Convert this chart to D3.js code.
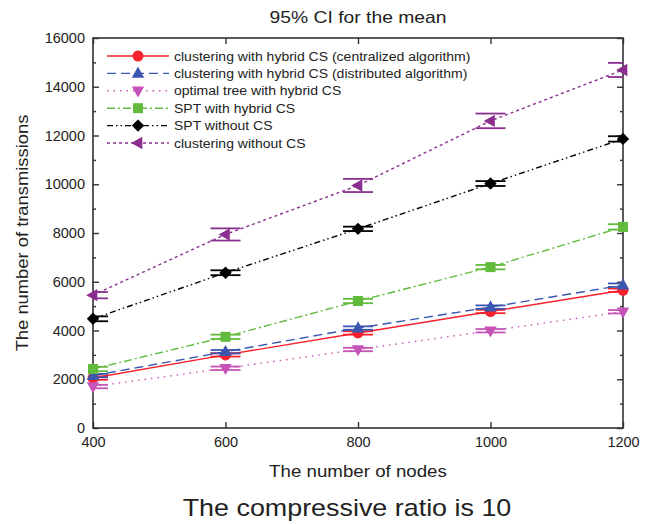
<!DOCTYPE html>
<html><head><meta charset="utf-8">
<script src="https://cdn.jsdelivr.net/npm/d3@7"></script>
<style>body{margin:0;background:#fff;} svg{display:block;font-family:"Liberation Sans",Arial,sans-serif;}</style>
</head><body>
<svg id="c" width="656" height="524"></svg>
<script>
const nodes = [400, 600, 800, 1000, 1200];
const seriesNames = [
  "clustering with hybrid CS (centralized algorithm)",
  "clustering with hybrid CS (distributed algorithm)",
  "optimal tree with hybrid CS",
  "SPT with hybrid CS",
  "SPT without CS",
  "clustering without CS"
];
const centralized = [2050, 3000, 3900, 4780, 5650];
const distributed = [2150, 3130, 4100, 4960, 5860];
const optimalTree = [1700, 2450, 3220, 3990, 4770];
const sptHybrid = [2420, 3740, 5210, 6600, 8250];
const sptNoCS = [4480, 6370, 8170, 10030, 11860];
const clusterNoCS = [5450, 7940, 9950, 12600, 14690];
const ciCentralized = [70, 70, 70, 70, 70];
const ciDistributed = [70, 70, 70, 70, 70];
const ciOptimal = [70, 70, 70, 70, 70];
const ciSptHybrid = [90, 90, 90, 90, 110];
const ciSptNoCS = [100, 100, 90, 100, 110];
const ciClusterNoCS = [130, 250, 270, 300, 290];
const yTicks = [0, 2000, 4000, 6000, 8000, 10000, 12000, 14000, 16000];
const xTicks = [400, 600, 800, 1000, 1200];

const colors = ["#f5222d", "#3a56b0", "#c653b8", "#62bb3c", "#000000", "#8a2f8f"];
const dashes = ["none", "9,5", "1.5,5", "8,3,2,3", "6,3,1.5,3,1.5,3", "3,3"];
const shapes = ["circle", "up", "down", "square", "diamond", "left"];
const values = [centralized, distributed, optimalTree, sptHybrid, sptNoCS, clusterNoCS];
const cis = [ciCentralized, ciDistributed, ciOptimal, ciSptHybrid, ciSptNoCS, ciClusterNoCS];

const svg = d3.select("#c");
const L = 93, R = 623, T = 38, B = 428;
const x = d3.scaleLinear().domain([400, 1200]).range([L, R]);
const y = d3.scaleLinear().domain([0, 16000]).range([B, T]);
const axisColor = "#333";
const txtColor = "#222";

function stretch(sel, f) {
  sel.each(function () {
    const w = this.getComputedTextLength();
    d3.select(this).attr("textLength", w * f).attr("lengthAdjust", "spacingAndGlyphs");
  });
  return sel;
}

// Title
stretch(svg.append("text").attr("x", 358).attr("y", 23).attr("text-anchor", "middle")
  .attr("font-size", 16.5).attr("fill", txtColor).text("95% CI for the mean"), 1.17);

// Axes with inward ticks
const g = svg.append("g");
const leftAx = d3.axisLeft(y).tickValues(yTicks).tickSize(-6).tickPadding(8).tickFormat(d3.format("d"));
const gl = g.append("g").attr("transform", `translate(${L},0)`).call(leftAx);
gl.selectAll("text").attr("font-size", 14.5).attr("fill", txtColor).attr("font-family", "Liberation Sans, Arial, sans-serif");
const rightAx = d3.axisRight(y).tickValues(yTicks).tickSize(-6).tickFormat("");
g.append("g").attr("transform", `translate(${R},0)`).call(rightAx);
const minorY = d3.range(1000, 16000, 2000);
g.append("g").attr("transform", `translate(${L},0)`).call(d3.axisLeft(y).tickValues(minorY).tickSize(-3).tickFormat(""));
g.append("g").attr("transform", `translate(${R},0)`).call(d3.axisRight(y).tickValues(minorY).tickSize(-3).tickFormat(""));
const bottomAx = d3.axisBottom(x).tickValues(xTicks).tickSize(-6).tickPadding(9).tickFormat(d3.format("d"));
const gb = g.append("g").attr("transform", `translate(0,${B})`).call(bottomAx);
gb.selectAll("text").attr("font-size", 14.5).attr("fill", txtColor).attr("font-family", "Liberation Sans, Arial, sans-serif");
g.append("g").attr("transform", `translate(0,${T})`).call(d3.axisTop(x).tickValues(xTicks).tickSize(-6).tickFormat(""));
g.selectAll(".domain").remove();
g.selectAll(".tick line").attr("stroke", axisColor).attr("stroke-width", 1.4);
svg.append("rect").attr("x", L).attr("y", T).attr("width", R - L).attr("height", B - T)
  .attr("fill", "none").attr("stroke", axisColor).attr("stroke-width", 1.6);

// Axis titles
stretch(svg.append("text").attr("x", 358).attr("y", 477).attr("text-anchor", "middle")
  .attr("font-size", 17).attr("fill", txtColor).text("The number of nodes"), 1.1);
stretch(svg.append("text").attr("transform", "translate(28,233) rotate(-90)").attr("text-anchor", "middle")
  .attr("font-size", 17).attr("fill", txtColor).text("The number of transmissions"), 1.08);
stretch(svg.append("text").attr("x", 347).attr("y", 516).attr("text-anchor", "middle")
  .attr("font-size", 24).attr("fill", txtColor).text("The compressive ratio is 10"), 1.12);

function marker(sel, shape, cx, cy, color, s) {
  let p;
  if (shape === "circle") return sel.append("circle").attr("cx", cx).attr("cy", cy).attr("r", s * 0.55).attr("fill", color);
  if (shape === "square") return sel.append("rect").attr("x", cx - s * 0.5).attr("y", cy - s * 0.5).attr("width", s).attr("height", s).attr("fill", color);
  const h = s * 0.62;
  if (shape === "up") p = [[cx, cy - h * 1.1], [cx + h, cy + h * 0.7], [cx - h, cy + h * 0.7]];
  if (shape === "down") p = [[cx, cy + h * 1.1], [cx + h, cy - h * 0.7], [cx - h, cy - h * 0.7]];
  if (shape === "left") p = [[cx - h * 1.1, cy], [cx + h * 0.7, cy - h], [cx + h * 0.7, cy + h]];
  if (shape === "diamond") p = [[cx, cy - h], [cx + h, cy], [cx, cy + h], [cx - h, cy]];
  return sel.append("polygon").attr("points", p.map(d => d.join(",")).join(" ")).attr("fill", color);
}

const plot = svg.append("g");
const line = d3.line().x((d, i) => x(nodes[i])).y(d => y(d));
values.forEach((vals, si) => {
  const gs = plot.append("g");
  gs.append("path").attr("d", line(vals)).attr("fill", "none").attr("stroke", colors[si])
    .attr("stroke-width", 1.4).attr("stroke-dasharray", dashes[si]);
  vals.forEach((v, i) => {
    const cx = x(nodes[i]);
    const ci = cis[si][i];
    [v - ci, v + ci].forEach(e => {
      const x0 = Math.max(L, cx - 15), x1 = Math.min(R, cx + 15);
      gs.append("line").attr("x1", x0).attr("x2", x1).attr("y1", y(e)).attr("y2", y(e))
        .attr("stroke", colors[si]).attr("stroke-width", 1.8);
    });
    marker(gs, shapes[si], cx, y(v), colors[si], 10);
  });
});

// Legend
const leg = svg.append("g");
seriesNames.forEach((name, i) => {
  const ly = 56 + i * 17.4;
  leg.append("line").attr("x1", 107).attr("x2", 169).attr("y1", ly).attr("y2", ly)
    .attr("stroke", colors[i]).attr("stroke-width", 1.4).attr("stroke-dasharray", dashes[i]);
  marker(leg, shapes[i], 138, ly, colors[i], 10);
  stretch(leg.append("text").attr("x", 174).attr("y", ly + 4.5).attr("font-size", 12.5).attr("fill", txtColor).text(name), 1.12);
});
</script>
</body></html>
